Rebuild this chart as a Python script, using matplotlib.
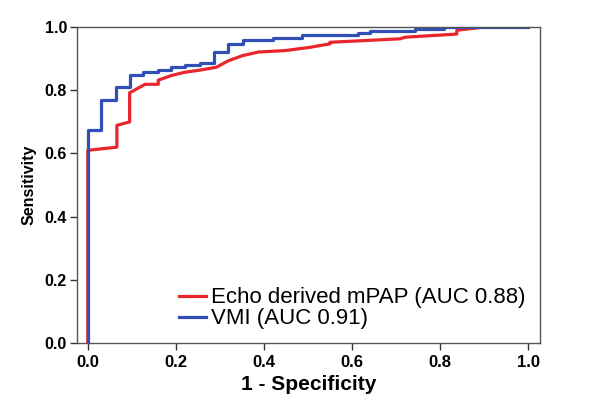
import matplotlib
matplotlib.use("Agg")
import matplotlib.pyplot as plt

# ROC curve points
vmi_fpr = [0, 0, 0.031, 0.064, 0.095, 0.126, 0.16, 0.19, 0.22, 0.255, 0.287,
           0.319, 0.352, 0.42, 0.486, 0.614, 0.641, 0.743, 0.808, 1.0]
vmi_tpr = [0, 0.673, 0.770, 0.81, 0.849, 0.857, 0.863, 0.873, 0.881, 0.887, 0.921,
           0.947, 0.96, 0.966, 0.976, 0.982, 0.987, 0.994, 1.0, 1.0]

echo_fpr = [0, 0, 0.066, 0.066, 0.095, 0.095, 0.13, 0.16, 0.16, 0.19, 0.22, 0.255,
            0.292, 0.32, 0.352, 0.387, 0.45, 0.504, 0.55, 0.55, 0.709, 0.72,
            0.838, 0.838, 0.898, 1.0]
echo_tpr = [0, 0.61, 0.62, 0.689, 0.70, 0.792, 0.819, 0.819, 0.832, 0.847, 0.857, 0.864,
            0.873, 0.894, 0.91, 0.921, 0.926, 0.936, 0.947, 0.952, 0.963, 0.968,
            0.978, 0.99, 1.0, 1.0]

labels = ["Echo derived mPAP (AUC 0.88)", "VMI (AUC 0.91)"]
xticks = [0.0, 0.2, 0.4, 0.6, 0.8, 1.0]
yticks = [0.0, 0.2, 0.4, 0.6, 0.8, 1.0]

plt.rcParams['font.family'] = ['Liberation Sans', 'DejaVu Sans']

fig = plt.figure(figsize=(6, 4.11), dpi=100)
ax = fig.add_axes([0.128, 0.1655, 0.772, 0.7685])

ax.plot(echo_fpr, echo_tpr, color='#e8262b', lw=2.3, label=labels[0])
ax.plot(vmi_fpr, vmi_tpr, color='#3050b8', lw=2.3, drawstyle='steps-post', label=labels[1])

ax.set_xlim(-0.025, 1.027)
ax.set_ylim(0, 1)
ax.set_xticks(xticks)
ax.set_yticks(yticks)
ax.set_xticklabels([f"{t:.1f}" for t in xticks], fontweight='bold', fontsize=12)
ax.set_yticklabels([f"{t:.1f}" for t in yticks], fontweight='bold', fontsize=11.5)
ax.tick_params(direction='out', length=5, width=1, colors='#333333', labelcolor='black')
ax.tick_params(axis='y', pad=2)

for s in ax.spines.values():
    s.set_color('#555555')
    s.set_linewidth(1)

ax.set_xlabel("1 - Specificity", fontweight='bold', fontsize=15, labelpad=4)
ax.set_ylabel("Sensitivity", fontweight='bold', fontsize=11.5, labelpad=6)

ax.legend(loc='lower right', bbox_to_anchor=(1.012, -0.02), frameon=False,
          fontsize=16, handlelength=1.2, handletextpad=0.25, labelspacing=0.0)

fig.savefig("out.png", dpi=100)
